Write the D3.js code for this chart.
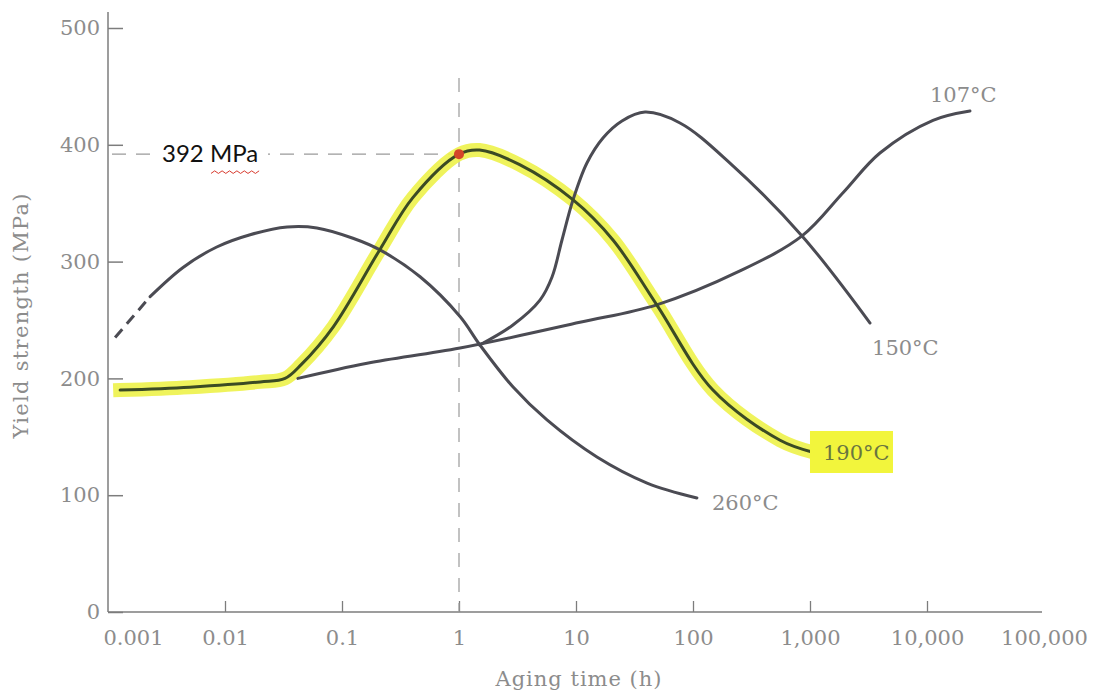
<!DOCTYPE html>
<html>
<head>
<meta charset="utf-8">
<script src="https://cdn.jsdelivr.net/npm/d3@7"></script>
<style>
  html, body { margin: 0; padding: 0; background: #ffffff; }
  svg { display: block; }
</style>
</head>
<body>
<svg id="chart" width="1097" height="695"></svg>
<script>
// Aging time (h) ticks and labels
const timeTicks = [0.001, 0.01, 0.1, 1, 10, 100, 1000, 10000, 100000];
const timeTickLabels = ["0.001", "0.01", "0.1", "1", "10", "100", "1,000", "10,000", "100,000"];
const strengthTicks = [0, 100, 200, 300, 400, 500];

// 260 °C: short dashed lead-in, then the measured curve
const time260Dashed = [0.00115, 0.00229];
const strength260Dashed = [235, 270];
const time260 = [0.00229, 0.00438, 0.0085, 0.0164, 0.034, 0.061, 0.124, 0.211, 0.465, 1.02, 1.51, 2.9, 5.65, 15.1, 40.5, 108];
const strength260 = [270, 295, 312.5, 323, 329.6, 328.8, 320, 310, 287, 253, 228.6, 192.6, 164.4, 132.7, 110.4, 97.6];

// 190 °C
const time190 = [0.00127, 0.005, 0.02, 0.0326, 0.045, 0.084, 0.21, 0.405, 1, 1.5, 3.3, 9.4, 20.7, 49, 148, 555, 1040];
const strength190 = [190, 192.5, 197, 200, 212, 244, 310, 355, 392, 395.5, 383, 353, 318.5, 263, 190, 147, 137];

// 150 °C
const time150 = [1.5, 2.89, 4.92, 6.24, 7.59, 9.42, 12.4, 17.0, 24.7, 38.9, 77.4, 207, 855, 3260];
const strength150 = [228.6, 245.7, 267, 286.8, 318.5, 352.7, 384.4, 405.8, 420.4, 428, 418.7, 384.4, 322, 247.4];

// 107 °C
const time107 = [0.042, 0.164, 1.02, 10.8, 49, 252, 855, 1915, 3960, 11250, 23300];
const strength107 = [200, 213, 226, 248, 263, 292, 322, 359, 393, 421, 429];

// Marked point: peak strength at 1 h for 190 °C
const markTime = 1;
const markStrength = 392;
const markLabel = "392 MPa";

const svg = d3.select("#chart");

const x = d3.scaleLog().domain([0.001, 100000]).range([108, 1044]);
const y = d3.scaleLinear().domain([0, 500]).range([612, 28]);

const serif = "'DejaVu Serif', 'Liberation Serif', serif";
const axisGrey = "#7d7d7d";
const labelGrey = "#8c8c8c";
const curveGrey = "#4b4b53";

// ---- axes ----
const yAxis = d3.axisLeft(y).tickValues(strengthTicks).tickSize(0).tickPadding(8);
const gy = svg.append("g").attr("transform", `translate(${x(0.001)},0)`).call(yAxis);
gy.select(".domain").remove();
gy.selectAll("text")
  .attr("font-family", serif).attr("font-size", 21).attr("fill", labelGrey);
gy.append("line")
  .attr("x1", 0).attr("x2", 0).attr("y1", 12).attr("y2", y(0))
  .attr("stroke", axisGrey).attr("stroke-width", 1.5);
gy.selectAll(".tick").append("line")
  .attr("x1", 0).attr("x2", 15).attr("y1", 0).attr("y2", 0)
  .attr("stroke", axisGrey).attr("stroke-width", 1.5);

const xAxis = d3.axisBottom(x).tickValues(timeTicks)
  .tickFormat((d, i) => timeTickLabels[i]).tickSize(0).tickPadding(18);
const gx = svg.append("g").attr("transform", `translate(0,${y(0)})`).call(xAxis);
gx.select(".domain").remove();
gx.selectAll("text")
  .attr("font-family", serif).attr("font-size", 21).attr("fill", labelGrey)
  .attr("dx", (d, i) => i === 0 ? 25 : 0);
gx.append("line")
  .attr("x1", x(0.001)).attr("x2", x(100000) - 2).attr("y1", 0).attr("y2", 0)
  .attr("stroke", axisGrey).attr("stroke-width", 1.5);
gx.selectAll(".tick").filter(d => d > 0.001 && d < 100000).append("line")
  .attr("x1", 0).attr("x2", 0).attr("y1", 0).attr("y2", -11)
  .attr("stroke", axisGrey).attr("stroke-width", 1.3);

// axis titles
svg.append("text")
  .attr("transform", `translate(28,${y(254)}) rotate(-90)`)
  .attr("text-anchor", "middle")
  .attr("font-family", serif).attr("font-size", 21).attr("fill", labelGrey)
  .attr("letter-spacing", 1.3)
  .text("Yield strength (MPa)");
svg.append("text")
  .attr("x", 579).attr("y", 686)
  .attr("text-anchor", "middle")
  .attr("font-family", serif).attr("font-size", 21).attr("fill", labelGrey)
  .attr("letter-spacing", 1)
  .text("Aging time (h)");

// ---- reference lines to the marked point ----
svg.append("line")
  .attr("x1", x(markTime)).attr("x2", x(markTime))
  .attr("y1", 78).attr("y2", y(0))
  .attr("stroke", "#9a9a9a").attr("stroke-width", 1.2)
  .attr("stroke-dasharray", "14 11");
svg.append("line")
  .attr("x1", x(0.001) + 4).attr("x2", x(markTime))
  .attr("y1", y(markStrength)).attr("y2", y(markStrength))
  .attr("stroke", "#9a9a9a").attr("stroke-width", 1.2)
  .attr("stroke-dasharray", "14 10");

// ---- curves ----
const line = d3.line()
  .x(d => x(d[0])).y(d => y(d[1]))
  .curve(d3.curveCatmullRom.alpha(0.5));
const pairs = (t, s) => t.map((v, i) => [v, s[i]]);

const data190 = pairs(time190, strength190);

// yellow highlighter behind the 190 °C curve
svg.append("path")
  .attr("d", line(data190))
  .attr("fill", "none")
  .attr("stroke", "#eef24e").attr("stroke-opacity", 0.92)
  .attr("stroke-width", 14).attr("stroke-linecap", "square")
  .attr("stroke-linejoin", "round");

svg.append("path")
  .attr("d", line(pairs(time260Dashed, strength260Dashed)))
  .attr("fill", "none").attr("stroke", curveGrey).attr("stroke-width", 3)
  .attr("stroke-dasharray", "11 7");

const greyCurves = [
  pairs(time260, strength260),
  pairs(time150, strength150),
  pairs(time107, strength107)
];
svg.selectAll("path.grey-curve")
  .data(greyCurves)
  .join("path")
  .attr("class", "grey-curve")
  .attr("d", line)
  .attr("fill", "none")
  .attr("stroke", curveGrey).attr("stroke-width", 3)
  .attr("stroke-linecap", "round");

svg.append("path")
  .attr("d", line(data190))
  .attr("fill", "none")
  .attr("stroke", "#3b4b24").attr("stroke-width", 3)
  .attr("stroke-linecap", "round");

// marked point
svg.append("circle")
  .attr("cx", x(markTime)).attr("cy", y(markStrength)).attr("r", 5)
  .attr("fill", "#d4462a");

// marked value label with white backing over the dashed guide
const lbl = svg.append("g");
lbl.append("rect")
  .attr("x", 152).attr("y", y(markStrength) - 18)
  .attr("width", 116).attr("height", 32)
  .attr("fill", "#ffffff");
lbl.append("text")
  .attr("x", 162).attr("y", y(markStrength) + 8)
  .attr("font-family", "Lato, 'Open Sans', sans-serif")
  .attr("font-size", 24).attr("fill", "#111111")
  .text(markLabel);
// spell-check style squiggle under the unit
const squiggle = d3.range(0, 14).map(i => [211 + i * 3.7, y(markStrength) + 18 + (i % 2 ? -1.3 : 1.3)]);
lbl.append("path")
  .attr("d", d3.line()(squiggle))
  .attr("fill", "none").attr("stroke", "#d83a2e").attr("stroke-width", 1);

// ---- curve labels ----
const labels = [
  { text: "107°C", t: time107[time107.length - 1], s: strength107[strength107.length - 1], dx: -40, dy: -9 },
  { text: "150°C", t: time150[time150.length - 1], s: strength150[strength150.length - 1], dx: 2, dy: 32 },
  { text: "260°C", t: time260[time260.length - 1], s: strength260[strength260.length - 1], dx: 15, dy: 12 }
];
svg.selectAll("text.curve-label")
  .data(labels)
  .join("text")
  .attr("class", "curve-label")
  .attr("x", d => x(d.t) + d.dx)
  .attr("y", d => y(d.s) + d.dy)
  .attr("font-family", serif).attr("font-size", 21).attr("fill", labelGrey)
  .text(d => d.text);

// highlighted 190 °C label
const end190 = data190[data190.length - 1];
const g190 = svg.append("g")
  .attr("transform", `translate(${x(end190[0])},${y(end190[1])})`);
g190.append("rect")
  .attr("x", -2).attr("y", -21).attr("width", 83).attr("height", 42)
  .attr("fill", "#f2f53c");
g190.append("text")
  .attr("x", 11).attr("y", 8)
  .attr("font-family", serif).attr("font-size", 21).attr("fill", "#6a7540")
  .text("190°C");
</script>
</body>
</html>
